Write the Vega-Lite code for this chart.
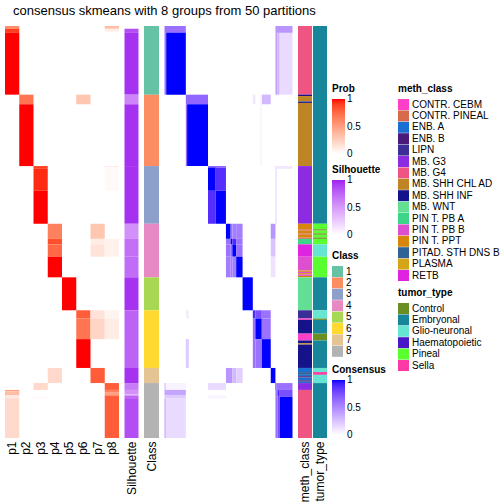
{
  "$schema": "https://vega.github.io/schema/vega-lite/v6.json",
  "padding": {"left": 5, "top": 5, "right": 0, "bottom": 0},
  "bounds": "flush",
  "spacing": 5.5,
  "resolve": {"scale": {"color": "independent"}, "legend": {"color": "independent"}},
  "title": {"text": "consensus skmeans with 8 groups from 50 partitions", "anchor": "start", "dx": 8, "fontSize": 13, "fontWeight": "normal", "font": "Liberation Sans", "color": "black", "offset": 8},
  "config": {
    "view": {"stroke": null},
    "axis": {"domain": false, "ticks": false, "grid": false, "labelFont": "Liberation Sans", "labelFontSize": 12, "labelColor": "black", "labelPadding": 3},
    "legend": {"orient": "none", "padding": 0, "titleFont": "Liberation Sans", "titleFontSize": 10, "titleFontWeight": "bold", "titleColor": "black", "titlePadding": 5, "labelFont": "Liberation Sans", "labelFontSize": 10, "labelColor": "black", "labelOffset": 3, "gradientLength": 55, "gradientThickness": 13, "gradientStrokeWidth": 0, "symbolType": "square", "symbolSize": 121, "symbolStrokeWidth": 0, "symbolOpacity": 1, "rowPadding": 0.4},
    "rect": {"strokeWidth": 0}
  },
  "datasets": {
    "prob": [
      {"r0": 0, "r1": 2, "p": "p1", "v": 0.6},
      {"r0": 2, "r1": 5, "p": "p1", "v": 0.9},
      {"r0": 5, "r1": 50, "p": "p1", "v": 1},
      {"r0": 0, "r1": 2, "p": "p8", "v": 0.35},
      {"r0": 2, "r1": 4, "p": "p8", "v": 0.1},
      {"r0": 50, "r1": 57, "p": "p2", "v": 0.7},
      {"r0": 57, "r1": 102, "p": "p2", "v": 1},
      {"r0": 50, "r1": 57, "p": "p6", "v": 0.3},
      {"r0": 102, "r1": 104, "p": "p3", "v": 0.9},
      {"r0": 104, "r1": 120, "p": "p3", "v": 0.95},
      {"r0": 120, "r1": 144, "p": "p3", "v": 1},
      {"r0": 102, "r1": 103, "p": "p8", "v": 0.1},
      {"r0": 103, "r1": 120, "p": "p8", "v": 0.03},
      {"r0": 144, "r1": 155, "p": "p4", "v": 0.65},
      {"r0": 155, "r1": 159, "p": "p4", "v": 0.85},
      {"r0": 159, "r1": 168, "p": "p4", "v": 0.75},
      {"r0": 168, "r1": 183, "p": "p4", "v": 1},
      {"r0": 144, "r1": 155, "p": "p7", "v": 0.3},
      {"r0": 155, "r1": 159, "p": "p7", "v": 0.1},
      {"r0": 159, "r1": 168, "p": "p7", "v": 0.15},
      {"r0": 155, "r1": 168, "p": "p8", "v": 0.07},
      {"r0": 183, "r1": 207, "p": "p5", "v": 1},
      {"r0": 207, "r1": 213, "p": "p6", "v": 0.8},
      {"r0": 213, "r1": 228, "p": "p6", "v": 0.7},
      {"r0": 228, "r1": 249, "p": "p6", "v": 1},
      {"r0": 207, "r1": 213, "p": "p7", "v": 0.15},
      {"r0": 213, "r1": 228, "p": "p7", "v": 0.22},
      {"r0": 207, "r1": 213, "p": "p8", "v": 0.06},
      {"r0": 213, "r1": 228, "p": "p8", "v": 0.1},
      {"r0": 249, "r1": 260, "p": "p7", "v": 0.8},
      {"r0": 249, "r1": 260, "p": "p4", "v": 0.2},
      {"r0": 260, "r1": 265, "p": "p8", "v": 0.8},
      {"r0": 265, "r1": 267, "p": "p8", "v": 0.65},
      {"r0": 267, "r1": 269, "p": "p8", "v": 0.5},
      {"r0": 269, "r1": 300, "p": "p8", "v": 0.8},
      {"r0": 265, "r1": 266, "p": "p1", "v": 0.5},
      {"r0": 266, "r1": 269, "p": "p1", "v": 0.35},
      {"r0": 269, "r1": 271, "p": "p1", "v": 0.12},
      {"r0": 271, "r1": 300, "p": "p1", "v": 0.2},
      {"r0": 260, "r1": 265, "p": "p3", "v": 0.2},
      {"r0": 270, "r1": 271, "p": "p3", "v": 0.05}
    ],
    "sil": [
      {"r0": 0, "r1": 2, "v": 0},
      {"r0": 2, "r1": 5, "v": 0.85},
      {"r0": 5, "r1": 50, "v": 0.95},
      {"r0": 50, "r1": 57, "v": 0.6},
      {"r0": 57, "r1": 102, "v": 0.95},
      {"r0": 102, "r1": 144, "v": 0.95},
      {"r0": 144, "r1": 155, "v": 0.55},
      {"r0": 155, "r1": 168, "v": 0.7},
      {"r0": 168, "r1": 183, "v": 0.72},
      {"r0": 183, "r1": 207, "v": 0.95},
      {"r0": 207, "r1": 249, "v": 0.76},
      {"r0": 249, "r1": 260, "v": 0.95},
      {"r0": 260, "r1": 265, "v": 0.65},
      {"r0": 265, "r1": 268, "v": 0.55},
      {"r0": 268, "r1": 269, "v": 0.35},
      {"r0": 269, "r1": 271, "v": 0.75},
      {"r0": 271, "r1": 300, "v": 0.85}
    ],
    "cls": [
      {"r0": 0, "r1": 50, "k": "1"},
      {"r0": 50, "r1": 102, "k": "2"},
      {"r0": 102, "r1": 144, "k": "3"},
      {"r0": 144, "r1": 183, "k": "4"},
      {"r0": 183, "r1": 207, "k": "5"},
      {"r0": 207, "r1": 249, "k": "6"},
      {"r0": 249, "r1": 260, "k": "7"},
      {"r0": 260, "r1": 300, "k": "8"}
    ],
    "cons": [
      {"r0": 0, "r1": 5, "c0": 0, "c1": 50, "v": 0.6},
      {"r0": 5, "r1": 50, "c0": 0, "c1": 4, "v": 0.6},
      {"r0": 5, "r1": 50, "c0": 4, "c1": 50, "v": 1},
      {"r0": 0, "r1": 5, "c0": 260, "c1": 300, "v": 0.45},
      {"r0": 5, "r1": 50, "c0": 260, "c1": 265, "v": 0.4},
      {"r0": 5, "r1": 50, "c0": 265, "c1": 270, "v": 0.3},
      {"r0": 5, "r1": 50, "c0": 270, "c1": 300, "v": 0.15},
      {"r0": 50, "r1": 57, "c0": 50, "c1": 102, "v": 0.65},
      {"r0": 57, "r1": 102, "c0": 50, "c1": 53, "v": 0.65},
      {"r0": 57, "r1": 102, "c0": 53, "c1": 102, "v": 1},
      {"r0": 50, "r1": 57, "c0": 228, "c1": 249, "v": 0.3},
      {"r0": 50, "r1": 57, "c0": 207, "c1": 213, "v": 0.1},
      {"r0": 50, "r1": 102, "c0": 225, "c1": 228, "v": 0.06},
      {"r0": 102, "r1": 103, "c0": 102, "c1": 144, "v": 0.7},
      {"r0": 103, "r1": 120, "c0": 102, "c1": 120, "v": 1},
      {"r0": 103, "r1": 120, "c0": 120, "c1": 144, "v": 0.88},
      {"r0": 120, "r1": 144, "c0": 102, "c1": 120, "v": 0.88},
      {"r0": 120, "r1": 144, "c0": 120, "c1": 144, "v": 1},
      {"r0": 102, "r1": 144, "c0": 260, "c1": 263, "v": 0.15},
      {"r0": 102, "r1": 104, "c0": 263, "c1": 300, "v": 0.1},
      {"r0": 144, "r1": 155, "c0": 144, "c1": 155, "v": 1},
      {"r0": 144, "r1": 155, "c0": 155, "c1": 159, "v": 0.6},
      {"r0": 144, "r1": 155, "c0": 159, "c1": 168, "v": 0.55},
      {"r0": 144, "r1": 155, "c0": 168, "c1": 183, "v": 0.55},
      {"r0": 155, "r1": 159, "c0": 144, "c1": 155, "v": 0.6},
      {"r0": 155, "r1": 159, "c0": 155, "c1": 159, "v": 1},
      {"r0": 155, "r1": 159, "c0": 159, "c1": 168, "v": 0.9},
      {"r0": 155, "r1": 159, "c0": 168, "c1": 183, "v": 0.6},
      {"r0": 159, "r1": 168, "c0": 144, "c1": 155, "v": 0.6},
      {"r0": 159, "r1": 168, "c0": 155, "c1": 159, "v": 0.65},
      {"r0": 159, "r1": 168, "c0": 159, "c1": 168, "v": 1},
      {"r0": 159, "r1": 168, "c0": 168, "c1": 183, "v": 0.6},
      {"r0": 168, "r1": 183, "c0": 144, "c1": 155, "v": 0.55},
      {"r0": 168, "r1": 183, "c0": 155, "c1": 159, "v": 0.55},
      {"r0": 168, "r1": 183, "c0": 159, "c1": 168, "v": 0.55},
      {"r0": 168, "r1": 183, "c0": 168, "c1": 183, "v": 1},
      {"r0": 144, "r1": 155, "c0": 249, "c1": 260, "v": 0.45},
      {"r0": 155, "r1": 168, "c0": 249, "c1": 260, "v": 0.25},
      {"r0": 168, "r1": 183, "c0": 249, "c1": 260, "v": 0.12},
      {"r0": 183, "r1": 207, "c0": 183, "c1": 207, "v": 1},
      {"r0": 207, "r1": 213, "c0": 207, "c1": 213, "v": 0.9},
      {"r0": 207, "r1": 213, "c0": 213, "c1": 228, "v": 0.75},
      {"r0": 207, "r1": 213, "c0": 228, "c1": 249, "v": 0.6},
      {"r0": 213, "r1": 228, "c0": 207, "c1": 213, "v": 0.6},
      {"r0": 213, "r1": 228, "c0": 213, "c1": 228, "v": 1},
      {"r0": 213, "r1": 228, "c0": 228, "c1": 249, "v": 0.6},
      {"r0": 228, "r1": 249, "c0": 207, "c1": 213, "v": 0.6},
      {"r0": 228, "r1": 249, "c0": 213, "c1": 228, "v": 0.6},
      {"r0": 228, "r1": 249, "c0": 228, "c1": 249, "v": 1},
      {"r0": 207, "r1": 213, "c0": 50, "c1": 57, "v": 0.08},
      {"r0": 228, "r1": 249, "c0": 50, "c1": 57, "v": 0.22},
      {"r0": 249, "r1": 260, "c0": 249, "c1": 260, "v": 1},
      {"r0": 249, "r1": 260, "c0": 144, "c1": 159, "v": 0.45},
      {"r0": 249, "r1": 260, "c0": 159, "c1": 168, "v": 0.3},
      {"r0": 249, "r1": 260, "c0": 168, "c1": 183, "v": 0.2},
      {"r0": 260, "r1": 265, "c0": 260, "c1": 262, "v": 0.9},
      {"r0": 260, "r1": 265, "c0": 262, "c1": 300, "v": 0.6},
      {"r0": 265, "r1": 270, "c0": 260, "c1": 265, "v": 0.6},
      {"r0": 265, "r1": 270, "c0": 265, "c1": 270, "v": 0.9},
      {"r0": 265, "r1": 270, "c0": 270, "c1": 300, "v": 0.75},
      {"r0": 270, "r1": 300, "c0": 260, "c1": 265, "v": 0.6},
      {"r0": 270, "r1": 300, "c0": 265, "c1": 270, "v": 0.75},
      {"r0": 270, "r1": 300, "c0": 270, "c1": 300, "v": 1},
      {"r0": 260, "r1": 265, "c0": 0, "c1": 3, "v": 0.3},
      {"r0": 260, "r1": 265, "c0": 3, "c1": 50, "v": 0.05},
      {"r0": 265, "r1": 269, "c0": 0, "c1": 50, "v": 0.38},
      {"r0": 269, "r1": 271, "c0": 0, "c1": 50, "v": 0.22},
      {"r0": 271, "r1": 300, "c0": 0, "c1": 3, "v": 0.4},
      {"r0": 271, "r1": 300, "c0": 3, "c1": 50, "v": 0.15},
      {"r0": 260, "r1": 265, "c0": 102, "c1": 144, "v": 0.15},
      {"r0": 269, "r1": 271, "c0": 102, "c1": 144, "v": 0.05}
    ],
    "meth": [
      {"r0": 0, "r1": 50, "m": "MB. G4"},
      {"r0": 50, "r1": 51, "m": "MB. SHH INF"},
      {"r0": 51, "r1": 55, "m": "MB. SHH CHL AD"},
      {"r0": 55, "r1": 56, "m": "MB. SHH INF"},
      {"r0": 56, "r1": 102, "m": "MB. SHH CHL AD"},
      {"r0": 102, "r1": 144, "m": "MB. G3"},
      {"r0": 144, "r1": 148, "m": "PIN T. PPT"},
      {"r0": 148, "r1": 149, "m": "CONTR. PINEAL"},
      {"r0": 149, "r1": 151, "m": "PIN T. PPT"},
      {"r0": 151, "r1": 152, "m": "CONTR. PINEAL"},
      {"r0": 152, "r1": 154, "m": "PIN T. PPT"},
      {"r0": 154, "r1": 155, "m": "CONTR. PINEAL"},
      {"r0": 155, "r1": 159, "m": "PIN T. PB A"},
      {"r0": 159, "r1": 168, "m": "RETB"},
      {"r0": 168, "r1": 178, "m": "PIN T. PB B"},
      {"r0": 178, "r1": 179, "m": "PIN T. PPT"},
      {"r0": 179, "r1": 180, "m": "PIN T. PB B"},
      {"r0": 180, "r1": 181, "m": "PIN T. PPT"},
      {"r0": 181, "r1": 182, "m": "PIN T. PB B"},
      {"r0": 182, "r1": 183, "m": "PIN T. PPT"},
      {"r0": 183, "r1": 207, "m": "MB. WNT"},
      {"r0": 207, "r1": 213, "m": "LIPN"},
      {"r0": 213, "r1": 214, "m": "CONTR. CEBM"},
      {"r0": 214, "r1": 224, "m": "MB. SHH INF"},
      {"r0": 224, "r1": 229, "m": "CONTR. CEBM"},
      {"r0": 229, "r1": 231, "m": "MB. SHH INF"},
      {"r0": 231, "r1": 232, "m": "MB. SHH CHL AD"},
      {"r0": 232, "r1": 249, "m": "MB. SHH INF"},
      {"r0": 249, "r1": 252, "m": "ENB. A"},
      {"r0": 252, "r1": 254, "m": "PITAD. STH DNS B"},
      {"r0": 254, "r1": 255, "m": "ENB. A"},
      {"r0": 255, "r1": 256, "m": "ENB. B"},
      {"r0": 256, "r1": 258, "m": "ENB. A"},
      {"r0": 258, "r1": 259, "m": "ENB. B"},
      {"r0": 259, "r1": 260, "m": "ENB. A"},
      {"r0": 260, "r1": 265, "m": "MB. G3"},
      {"r0": 265, "r1": 300, "m": "MB. G4"}
    ],
    "tumor": [
      {"r0": 0, "r1": 144, "t": "Embryonal"},
      {"r0": 144, "r1": 148, "t": "Pineal"},
      {"r0": 148, "r1": 149, "t": "Control"},
      {"r0": 149, "r1": 151, "t": "Pineal"},
      {"r0": 151, "r1": 152, "t": "Control"},
      {"r0": 152, "r1": 154, "t": "Pineal"},
      {"r0": 154, "r1": 155, "t": "Control"},
      {"r0": 155, "r1": 159, "t": "Pineal"},
      {"r0": 159, "r1": 168, "t": "Glio-neuronal"},
      {"r0": 168, "r1": 183, "t": "Pineal"},
      {"r0": 183, "r1": 207, "t": "Embryonal"},
      {"r0": 207, "r1": 213, "t": "Glio-neuronal"},
      {"r0": 213, "r1": 214, "t": "Control"},
      {"r0": 214, "r1": 224, "t": "Embryonal"},
      {"r0": 224, "r1": 229, "t": "Control"},
      {"r0": 229, "r1": 249, "t": "Embryonal"},
      {"r0": 249, "r1": 252, "t": "Glio-neuronal"},
      {"r0": 252, "r1": 254, "t": "Sella"},
      {"r0": 254, "r1": 260, "t": "Glio-neuronal"},
      {"r0": 260, "r1": 300, "t": "Embryonal"}
    ]
  },
  "hconcat": [
    {
      "data": {"name": "prob"},
      "width": 114, "height": 412,
      "mark": "rect",
      "encoding": {
        "x": {"field": "p", "type": "nominal", "sort": ["p1","p2","p3","p4","p5","p6","p7","p8"], "scale": {"domain": ["p1","p2","p3","p4","p5","p6","p7","p8"], "paddingInner": 0, "paddingOuter": 0}, "axis": {"title": null, "labelAngle": -90, "orient": "bottom"}},
        "y": {"field": "r0", "type": "quantitative", "scale": {"domain": [0, 300], "reverse": true, "nice": false, "zero": false}, "axis": null},
        "y2": {"field": "r1"},
        "color": {"field": "v", "type": "quantitative", "scale": {"domain": [0, 1], "range": ["#FFFFFF", "#FF0000"], "interpolate": "lab"}, "legend": {"title": "Prob", "values": [0, 0.5, 1], "format": "~g", "encode": {"labels": {"update": {"baseline": {"value": "middle"}}}}, "legendX": 327, "legendY": 58}}
      }
    },
    {
      "data": {"name": "sil"},
      "width": 14, "height": 412,
      "mark": "rect",
      "encoding": {
        "x": {"datum": "Silhouette", "type": "nominal", "scale": {"paddingInner": 0, "paddingOuter": 0}, "axis": {"title": null, "labelAngle": -90}},
        "y": {"field": "r0", "type": "quantitative", "scale": {"domain": [0, 300], "reverse": true, "nice": false, "zero": false}, "axis": null},
        "y2": {"field": "r1"},
        "color": {"field": "v", "type": "quantitative", "scale": {"domain": [0, 1], "range": ["#FFFFFF", "#A020F0"], "interpolate": "lab"}, "legend": {"title": "Silhouette", "values": [0, 0.5, 1], "format": "~g", "encode": {"labels": {"update": {"baseline": {"value": "middle"}}}}, "legendX": 207.5, "legendY": 139}}
      }
    },
    {
      "data": {"name": "cls"},
      "width": 15, "height": 412,
      "mark": "rect",
      "encoding": {
        "x": {"datum": "Class", "type": "nominal", "scale": {"paddingInner": 0, "paddingOuter": 0}, "axis": {"title": null, "labelAngle": -90}},
        "y": {"field": "r0", "type": "quantitative", "scale": {"domain": [0, 300], "reverse": true, "nice": false, "zero": false}, "axis": null},
        "y2": {"field": "r1"},
        "color": {"field": "k", "type": "nominal", "scale": {"domain": ["1","2","3","4","5","6","7","8"], "range": ["#66C2A5","#FC8D62","#8DA0CB","#E78AC3","#A6D854","#FFD92F","#E5C494","#B3B3B3"]}, "legend": {"title": "Class", "legendX": 188, "legendY": 225}}
      }
    },
    {
      "data": {"name": "cons"},
      "width": 128, "height": 412,
      "mark": "rect",
      "encoding": {
        "x": {"field": "c0", "type": "quantitative", "scale": {"domain": [0, 300], "nice": false, "zero": false}, "axis": null},
        "x2": {"field": "c1"},
        "y": {"field": "r0", "type": "quantitative", "scale": {"domain": [0, 300], "reverse": true, "nice": false, "zero": false}, "axis": null},
        "y2": {"field": "r1"},
        "color": {"field": "v", "type": "quantitative", "scale": {"domain": [0, 1], "range": ["#FFFFFF", "#0000FF"], "interpolate": "lab"}, "legend": {"title": "Consensus", "values": [0, 0.5, 1], "format": "~g", "encode": {"labels": {"update": {"baseline": {"value": "middle"}}}}, "legendX": 167.5, "legendY": 339}}
      }
    },
    {
      "bounds": "flush",
      "spacing": 1,
      "resolve": {"scale": {"color": "independent"}, "legend": {"color": "independent"}},
      "hconcat": [
        {
          "data": {"name": "meth"},
          "width": 14, "height": 412,
          "mark": "rect",
          "encoding": {
            "x": {"datum": "meth_class", "type": "nominal", "scale": {"paddingInner": 0, "paddingOuter": 0}, "axis": {"title": null, "labelAngle": -90}},
            "y": {"field": "r0", "type": "quantitative", "scale": {"domain": [0, 300], "reverse": true, "nice": false, "zero": false}, "axis": null},
            "y2": {"field": "r1"},
            "color": {"field": "m", "type": "nominal", "scale": {"domain": ["CONTR. CEBM","CONTR. PINEAL","ENB. A","ENB. B","LIPN","MB. G3","MB. G4","MB. SHH CHL AD","MB. SHH INF","MB. WNT","PIN T. PB A","PIN T. PB B","PIN T. PPT","PITAD. STH DNS B","PLASMA","RETB"], "range": ["#FF3FC8","#D66A4B","#1B6FD1","#4A1A7A","#3B2F97","#8B2BE2","#EF5582","#BF8424","#15138A","#62DF95","#3CD68A","#DE4FD0","#D8860A","#2F6396","#D4A516","#DE24E0"]}, "legend": {"title": "meth_class", "legendX": 100, "legendY": 58}}
          }
        },
        {
          "data": {"name": "tumor"},
          "width": 14, "height": 412,
          "mark": "rect",
          "encoding": {
            "x": {"datum": "tumor_type", "type": "nominal", "scale": {"paddingInner": 0, "paddingOuter": 0}, "axis": {"title": null, "labelAngle": -90}},
            "y": {"field": "r0", "type": "quantitative", "scale": {"domain": [0, 300], "reverse": true, "nice": false, "zero": false}, "axis": null},
            "y2": {"field": "r1"},
            "color": {"field": "t", "type": "nominal", "scale": {"domain": ["Control","Embryonal","Glio-neuronal","Haematopoietic","Pineal","Sella"], "range": ["#6A8E22","#18869A","#66E5D2","#4A17C8","#5AFF30","#FB3AA6"]}, "legend": {"title": "tumor_type", "legendX": 85, "legendY": 262}}
          }
        }
      ]
    }
  ]
}
